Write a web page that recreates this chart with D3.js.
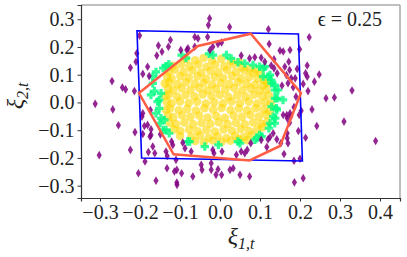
<!DOCTYPE html>
<html>
<head>
<meta charset="utf-8">
<script src="https://cdn.jsdelivr.net/npm/d3@7"></script>
<style>
  body { margin: 0; background: #fff; }
  text { font-family: "Liberation Serif", "Times New Roman", "DejaVu Serif", serif; fill: #222; }
</style>
</head>
<body>
<div id="chart"></div>
<script>
// tick values
var xTicks = [-0.3, -0.2, -0.1, 0.0, 0.1, 0.2, 0.3, 0.4];
var yTicks = [-0.3, -0.2, -0.1, 0.0, 0.1, 0.2, 0.3];
var epsilon = 0.25;

// samples outside the set (purple diamonds)
var outerPts = [
  [-0.312,-0.005],[-0.27,0.077],[-0.244,0.054],[-0.236,0.047],[-0.268,-0.025],[-0.254,-0.082],
  [-0.224,0.125],[-0.21,0.147],[-0.208,0.177],[-0.214,0.041],[-0.201,0.241],[-0.181,0.129],
  [-0.193,0.103],[-0.177,0.095],[-0.158,0.169],[-0.154,0.205],[-0.124,0.225],[-0.129,0.201],
  [-0.098,0.189],[-0.145,0.183],[-0.083,0.189],[-0.063,0.201],[-0.026,0.303],[-0.029,0.279],
  [0.024,0.272],[-0.063,0.236],[-0.055,0.231],[-0.031,0.236],[-0.005,0.211],[0.004,0.216],
  [-0.018,0.201],[-0.025,0.189],[-0.08,0.195],[0.121,0.264],[0.053,0.169],[0.074,0.159],
  [0.087,0.163],[0.103,0.161],[0.112,0.147],[0.123,0.211],[0.15,0.187],[0.158,0.184],
  [0.175,0.189],[0.135,0.156],[0.128,0.133],[0.135,0.123],[0.143,0.105],[0.162,0.129],
  [0.172,0.147],[0.166,0.099],[0.17,0.069],[0.155,0.061],[0.178,0.087],[0.174,0.117],
  [0.223,0.235],[0.199,0.192],[0.218,0.133],[0.193,0.121],[0.214,0.105],[0.248,0.101],
  [0.218,0.093],[0.236,0.075],[0.208,0.067],[0.22,0.041],[0.33,0.043],[0.265,0.015],
  [0.286,0.018],[0.188,0.087],[0.183,0.055],[0.19,0.021],[0.23,-0.025],[0.203,-0.03],
  [0.198,-0.045],[0.185,-0.017],[0.175,-0.039],[0.167,-0.045],[0.31,-0.069],[0.242,-0.085],
  [0.196,-0.103],[0.214,-0.127],[0.389,-0.139],[0.2,-0.203],[0.185,-0.21],[0.208,-0.273],
  [0.186,-0.288],[0.16,-0.186],[0.125,-0.125],[0.142,-0.133],[0.117,-0.161],[0.168,-0.129],
  [0.158,-0.045],[0.168,-0.057],[0.177,-0.051],[0.174,-0.073],[0.133,-0.111],[0.152,-0.147],
  [0.17,-0.147],[0.168,-0.111],[0.103,-0.135],[0.12,-0.133],[0.077,-0.147],[0.068,-0.171],
  [0.062,-0.183],[0.053,-0.177],[0.041,-0.189],[0.005,-0.177],[-0.015,-0.183],[-0.018,-0.171],
  [-0.072,-0.177],[-0.047,-0.225],[-0.045,-0.243],[-0.022,-0.219],[-0.022,-0.243],[-0.005,-0.241],
  [0.033,-0.237],[-0.068,-0.267],[0.074,-0.267],[-0.01,-0.261],[0.004,-0.261],[0.025,-0.243],
  [0.05,-0.261],[-0.2125,-0.107],[-0.175,-0.123],[-0.163,-0.183],[-0.135,-0.177],[-0.132,-0.193],
  [-0.108,-0.243],[-0.096,-0.255],[-0.204,-0.255],[-0.16,-0.282],[-0.108,-0.289],[-0.302,-0.19],
  [-0.224,-0.171],[-0.193,-0.039],[-0.189,-0.085],[-0.181,-0.081],[-0.193,-0.114],[-0.1725,-0.097],
  [-0.1725,-0.117],[-0.149,-0.115],[-0.168,-0.159],[-0.179,-0.179],[-0.1875,-0.213],[-0.1325,-0.237],
  [-0.114,-0.249],[-0.1075,-0.297],[-0.121,-0.141],[-0.118,-0.153],[-0.093,-0.145],[-0.0875,-0.165],
  [-0.11,-0.207],[-0.174,-0.027],[-0.195,-0.051]
];

// samples on the boundary ring (green plus markers)
var ringPts = [
  [-0.142,0.124],[-0.16,0.11],[-0.168,0.092],[-0.168,0.069],[-0.164,0.041],[-0.1725,0.027],
  [-0.1475,0.033],[-0.152,0.009],[-0.156,0.003],[-0.152,-0.021],[-0.16,-0.039],[-0.1475,-0.057],
  [-0.139,-0.063],[-0.15,-0.075],[-0.142,-0.099],[-0.135,-0.099],[-0.127,-0.111],[-0.081,-0.141],
  [-0.076,-0.141],[-0.038,-0.159],[-0.004,-0.153],[0.045,-0.141],[0.05,-0.147],[0.087,-0.135],
  [0.092,-0.129],[0.099,-0.117],[0.104,-0.123],[0.122,-0.093],[0.137,-0.075],[0.125,-0.075],
  [0.138,-0.057],[0.133,-0.051],[0.142,-0.027],[0.141,-0.021],[0.129,-0.015],[0.1375,0.015],
  [0.143,0.015],[0.1575,0.009],[0.145,0.045],[0.1375,0.045],[0.137,0.063],[0.129,0.069],
  [0.128,0.081],[0.12,0.093],[0.125,0.099],[0.108,0.093],[0.1125,0.129],[0.108,0.123],
  [0.099,0.129],[0.0825,0.135],[0.062,0.141],[0.045,0.145],[0.028,0.159],[0.016,0.171],
  [-0.0175,0.171],[-0.0275,0.175],[-0.096,0.171],[-0.085,0.16],[-0.135,0.131],[-0.128,0.138]
];

// samples inside the set (gold circles)
var innerPts = [
  [-0.085,0.158],[-0.062,0.152],[-0.041,0.16],[-0.02,0.151],[0.003,0.157],[0.027,0.149],[0.048,0.146],
  [-0.118,0.132],[-0.097,0.138],[-0.076,0.131],[-0.054,0.137],[-0.033,0.129],[-0.012,0.136],[0.011,0.13],
  [0.033,0.138],[0.055,0.127],[0.074,0.122],[0.09,0.117],
  [-0.128,0.112],[-0.113,0.118],[-0.091,0.11],[-0.069,0.116],[-0.047,0.108],[-0.024,0.114],[-0.004,0.109],
  [0.018,0.117],[0.04,0.11],[0.061,0.115],[0.083,0.107],[0.101,0.104],
  [-0.132,0.093],[-0.121,0.087],[-0.099,0.095],[-0.078,0.089],[-0.056,0.094],[-0.035,0.086],[-0.013,0.092],
  [0.008,0.088],[0.03,0.095],[0.052,0.087],[0.073,0.092],[0.094,0.086],[0.11,0.079],
  [-0.138,0.068],[-0.127,0.072],[-0.106,0.066],[-0.085,0.073],[-0.063,0.067],[-0.041,0.071],[-0.02,0.065],
  [0.002,0.07],[0.023,0.066],[0.045,0.073],[0.066,0.068],[0.087,0.064],[0.108,0.061],[0.118,0.07],
  [-0.13,0.049],[-0.117,0.045],[-0.096,0.051],[-0.074,0.046],[-0.052,0.052],[-0.031,0.044],[-0.01,0.049],
  [0.013,0.046],[0.035,0.052],[0.056,0.045],[0.077,0.05],[0.098,0.043],[0.116,0.047],
  [-0.136,0.024],[-0.128,0.028],[-0.107,0.021],[-0.086,0.027],[-0.064,0.022],[-0.043,0.029],[-0.021,0.023],
  [0.0,0.027],[0.021,0.02],[0.043,0.026],[0.064,0.021],[0.085,0.028],[0.105,0.022],[0.122,0.026],
  [-0.133,0.002],[-0.121,-0.003],[-0.1,0.004],[-0.078,-0.002],[-0.057,0.003],[-0.035,-0.004],[-0.014,0.001],
  [0.008,-0.003],[0.029,0.004],[0.05,-0.002],[0.072,0.003],[0.093,-0.004],[0.113,0.001],[0.127,-0.005],
  [-0.135,-0.027],[-0.125,-0.022],[-0.103,-0.028],[-0.082,-0.023],[-0.06,-0.029],[-0.039,-0.021],[-0.017,-0.026],
  [0.004,-0.02],[0.026,-0.027],[0.047,-0.022],[0.068,-0.028],[0.089,-0.021],[0.109,-0.026],[0.124,-0.031],
  [-0.13,-0.048],[-0.117,-0.053],[-0.095,-0.046],[-0.074,-0.052],[-0.052,-0.047],[-0.031,-0.054],[-0.009,-0.049],
  [0.012,-0.055],[0.034,-0.047],[0.055,-0.052],[0.076,-0.045],[0.097,-0.051],[0.116,-0.044],
  [-0.126,-0.073],[-0.11,-0.078],[-0.089,-0.072],[-0.067,-0.079],[-0.046,-0.074],[-0.024,-0.077],[-0.003,-0.071],
  [0.019,-0.078],[0.04,-0.073],[0.062,-0.079],[0.083,-0.072],[0.103,-0.077],[0.118,-0.07],
  [-0.115,-0.097],[-0.099,-0.103],[-0.077,-0.098],[-0.056,-0.104],[-0.034,-0.099],[-0.013,-0.105],[0.009,-0.097],
  [0.03,-0.102],[0.052,-0.096],[0.073,-0.103],[0.093,-0.098],[0.106,-0.09],
  [-0.1,-0.121],[-0.072,-0.124],[-0.05,-0.119],[-0.028,-0.127],[-0.006,-0.122],[0.016,-0.128],[0.038,-0.12],
  [0.06,-0.125],[0.079,-0.118],
  [-0.062,-0.139],[-0.04,-0.144],[-0.018,-0.137],[0.004,-0.142],[0.026,-0.138],[0.047,-0.133],[0.068,-0.136]
];

// blue box corners and red polygon vertices
var boxCorners = [[-0.2075,0.2587],[0.196,0.247],[0.206,-0.211],[-0.196,-0.2]];
var hullVerts = [[-0.2025,0.034],[-0.055,0.2036],[0.0768,0.248],[0.2025,0.034],[0.15,-0.157],[0.074,-0.209],[-0.116,-0.187]];

var W = 407, H = 257;
var serif = '"Liberation Serif", "Times New Roman", "DejaVu Serif", serif';
var svg = d3.select("#chart").append("svg").attr("width", W).attr("height", H);

var x = d3.scaleLinear().domain([-0.3475, 0.45]).range([81, 400]);
var y = d3.scaleLinear().domain([-0.3445, 0.3514]).range([198, 5]);
var fmt = d3.format(".1f");

// frame: dark left/bottom, grey top/right
svg.append("line").attr("x1", 81).attr("x2", 400).attr("y1", 5).attr("y2", 5).attr("stroke", "#aaa").attr("stroke-width", 1.5);
svg.append("line").attr("x1", 400).attr("x2", 400).attr("y1", 5).attr("y2", 198).attr("stroke", "#aaa").attr("stroke-width", 1.5);

var xAxis = svg.append("g").attr("transform", "translate(0,198)")
  .call(d3.axisBottom(x).tickValues(xTicks).tickFormat(fmt).tickSizeOuter(0).tickSize(3.5).tickPadding(3));
var yAxis = svg.append("g").attr("transform", "translate(81,0)")
  .call(d3.axisLeft(y).tickValues(yTicks).tickFormat(fmt).tickSizeOuter(0).tickSize(3.5).tickPadding(3));
[xAxis, yAxis].forEach(function (a) {
  a.attr("font-family", serif);
  a.select(".domain").attr("stroke", "#333").attr("stroke-width", 1.2);
  a.selectAll(".tick line").attr("stroke", "#333").attr("stroke-width", 1);
  a.selectAll(".tick text").style("font-family", serif).style("font-size", "20px").attr("fill", "#222");
});

// points
var plot = svg.append("g");
plot.selectAll("circle.inner").data(innerPts).enter().append("circle")
  .attr("class", "inner")
  .attr("cx", function (d) { return x(d[0]); })
  .attr("cy", function (d) { return y(d[1]); })
  .attr("r", 4.3)
  .attr("fill", "#ffd700").attr("fill-opacity", 0.6);

var plusPath = "M-1.6,-4.2H1.6V-1.6H4.2V1.6H1.6V4.2H-1.6V1.6H-4.2V-1.6H-1.6Z";
plot.selectAll("path.ring").data(ringPts).enter().append("path")
  .attr("class", "ring")
  .attr("d", plusPath)
  .attr("transform", function (d) { return "translate(" + x(d[0]) + "," + y(d[1]) + ")"; })
  .attr("fill", "#00ff7f").attr("fill-opacity", 0.8);

var diamondPath = "M0,-4.3L2.6,0L0,4.3L-2.6,0Z";
plot.selectAll("path.outer").data(outerPts).enter().append("path")
  .attr("class", "outer")
  .attr("d", diamondPath)
  .attr("transform", function (d) { return "translate(" + x(d[0]) + "," + y(d[1]) + ")"; })
  .attr("fill", "#800080").attr("fill-opacity", 0.85);

// lines
var line = d3.line().x(function (d) { return x(d[0]); }).y(function (d) { return y(d[1]); }).curve(d3.curveLinearClosed);
svg.append("path").attr("d", line(boxCorners)).attr("fill", "none").attr("stroke", "#0000ff").attr("stroke-width", 1.6);
svg.append("path").attr("d", line(hullVerts)).attr("fill", "none").attr("stroke", "#ff5e45").attr("stroke-width", 2.5).attr("stroke-linejoin", "miter");

// labels
var xl = svg.append("text").attr("x", 241).attr("y", 244).attr("text-anchor", "middle")
  .style("font-family", serif).style("font-size", "24px").style("font-style", "italic");
xl.append("tspan").text("ξ");
xl.append("tspan").attr("dy", 5).style("font-size", "16px").text("1,t");

var yl = svg.append("text").attr("transform", "translate(23,96) rotate(-90)").attr("text-anchor", "middle")
  .style("font-family", serif).style("font-size", "24px").style("font-style", "italic");
yl.append("tspan").text("ξ");
yl.append("tspan").attr("dy", 5).style("font-size", "16px").text("2,t");

svg.append("text").attr("x", 382).attr("y", 26).attr("text-anchor", "end")
  .style("font-family", serif).style("font-size", "20px")
  .text("ϵ = " + epsilon.toFixed(2));
</script>
</body>
</html>
